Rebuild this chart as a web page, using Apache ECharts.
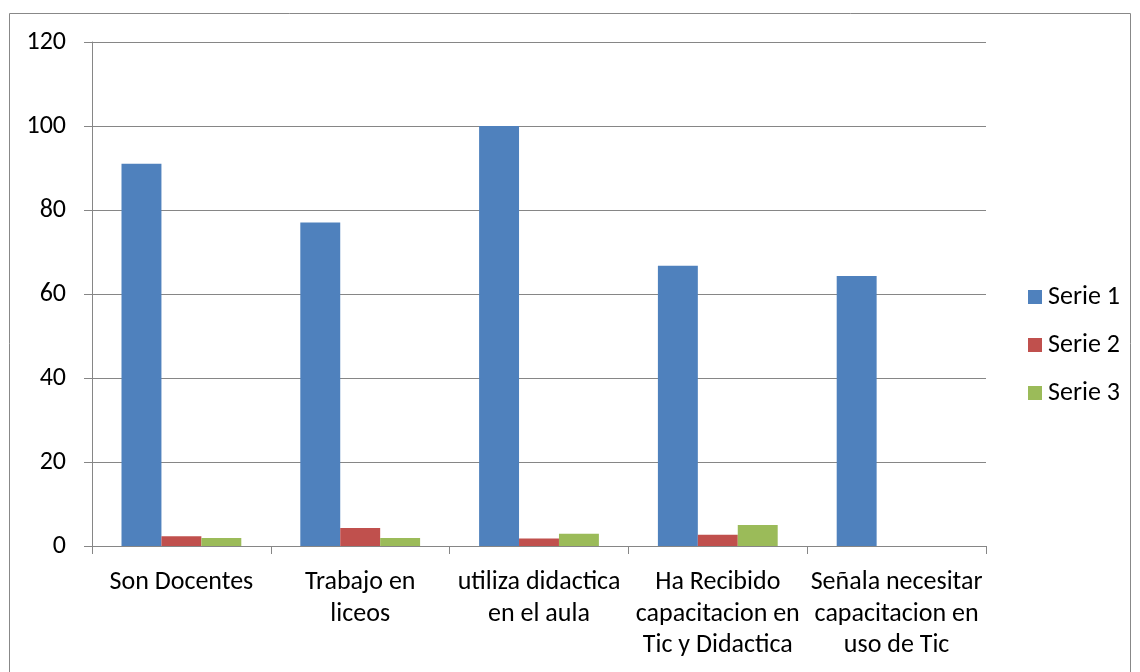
<!DOCTYPE html>
<html>
<head>
<meta charset="utf-8">
<script src="https://cdn.jsdelivr.net/npm/echarts@6/dist/echarts.min.js"></script>
<style>
html,body{margin:0;padding:0;background:#fff;}
#chart{width:1140px;height:672px;}
</style>
</head>
<body>
<div id="chart"></div>
<script>
const categories = ["Son Docentes", "Trabajo en\nliceos", "utiliza didactica\nen el aula", "Ha Recibido\ncapacitacion en\nTic y Didactica", "Señala necesitar\ncapacitacion en\nuso de Tic"];
const seriesNames = ["Serie 1", "Serie 2", "Serie 3"];
const serie1 = [91, 77, 100, 66.7, 64.3];
const serie2 = [2.3, 4.3, 1.8, 2.7, 0];
const serie3 = [1.9, 1.9, 2.9, 5, 0];
const yTicks = [0, 20, 40, 60, 80, 100, 120];

const colors = ["#4F81BD", "#C0504D", "#9BBB59"];
const font = "Carlito, 'Liberation Sans Narrow', 'Liberation Sans', sans-serif";
const chart = echarts.init(document.getElementById('chart'), null, {renderer: 'canvas'});
const data = [serie1, serie2, serie3];
chart.setOption({
  animation: false,
  backgroundColor: '#fff',
  graphic: [{
    type: 'rect', silent: true,
    shape: {x: 9.5, y: 13.5, width: 1121, height: 700},
    style: {fill: 'none', stroke: '#888', lineWidth: 1}
  }],
  grid: {left: 92, right: 154, top: 42, bottom: 126},
  legend: {
    orient: 'vertical', left: 1023, top: 279, padding: 5,
    itemWidth: 14, itemHeight: 14, itemGap: 22,
    icon: 'rect',
    textStyle: {fontFamily: font, fontSize: 26, color: '#000', padding: [0,0,0,1]},
    data: seriesNames
  },
  xAxis: {
    type: 'category', data: categories,
    axisLine: {lineStyle: {color: '#868686'}},
    axisTick: {show: true, length: 8, lineStyle: {color: '#868686'}},
    axisLabel: {interval: 0, fontFamily: font, fontSize: 26, color: '#000', lineHeight: 31.5, margin: 21}
  },
  yAxis: {
    type: 'value', min: yTicks[0], max: yTicks[yTicks.length-1], interval: 20,
    axisLine: {show: true, lineStyle: {color: '#868686'}},
    axisTick: {show: true, length: 8, lineStyle: {color: '#868686'}},
    splitLine: {lineStyle: {color: '#868686'}},
    axisLabel: {fontFamily: font, fontSize: 26, color: '#000', margin: 26}
  },
  series: seriesNames.map((n, i) => ({
    name: n, type: 'bar', data: data[i],
    barGap: '0%', barCategoryGap: '33%',
    itemStyle: {color: colors[i]}
  }))
});
</script>
</body>
</html>
